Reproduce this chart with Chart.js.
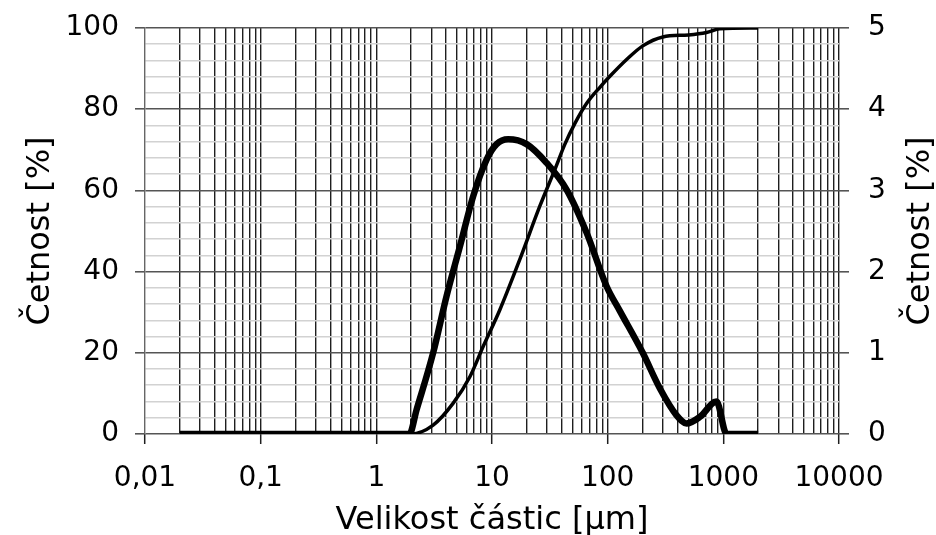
<!DOCTYPE html>
<html>
<head>
<meta charset="utf-8">
<script src="https://cdn.jsdelivr.net/npm/chart.js@4"></script>
<style>
  html, body { margin: 0; padding: 0; background: #fff; }
  #wrap { width: 936px; height: 535px; position: relative; }
</style>
</head>
<body>
<div id="wrap"><canvas id="psd"></canvas></div>
<script>
/* ── data ── */

// cumulative curve (left axis, %)
var cumSize  = [0.02, 2.0, 3.1, 4.62, 6.44, 8.4, 11.7, 17.4, 25.9, 35.0, 42.7, 52.1, 66.1, 85.7, 104.5, 146.6, 201, 300, 500, 716, 933, 2000];
var cumValue = [0, 0, 2.2, 7.6, 14.1, 21.6, 30.6, 43.0, 56.1, 65.2, 71.4, 76.5, 81.5, 85.4, 88.1, 92.3, 95.6, 97.8, 98.3, 98.9, 99.8, 100];

// frequency curve (right axis, %)
var freqSize  = [0.02, 1.93, 2.23, 3.1, 4.05, 5.28, 6.88, 8.98, 10.96, 13.8, 19.9, 29.6, 44.1, 65.7, 97.8, 127, 201, 283, 394, 481, 627, 873, 1066, 2000];
var freqValue = [0, 0, 0.3, 1.0, 1.7, 2.31, 2.93, 3.38, 3.57, 3.63, 3.57, 3.34, 3.01, 2.48, 1.82, 1.52, 1.0, 0.56, 0.23, 0.13, 0.21, 0.40, 0, 0];

// axis ticks
var xDecades    = [0.01, 0.1, 1, 10, 100, 1000, 10000];
var xTickLabels = ["0,01", "0,1", "1", "10", "100", "1000", "10000"];
var yLeftLabels  = [0, 20, 40, 60, 80, 100];
var yRightLabels = [0, 1, 2, 3, 4, 5];

var FONT = "'DejaVu Sans', Verdana, sans-serif";
var MAJOR = "#555";
var MINOR = "#d2d2d2";
var VLINE = "#1e1e1e";

function decadeIndex(v) {
  for (var i = 0; i < xDecades.length; i++) {
    if (Math.abs(v - xDecades[i]) < xDecades[i] * 1e-6) return i;
  }
  return -1;
}

function pairs(xs, ys) {
  return xs.map(function(x, i) { return { x: x, y: ys[i] }; });
}

// fixed box sizes, no label overflow padding (layout.padding sets the top)
function fixBox(w, h) {
  return function(scale) {
    if (w) scale.width = w;
    if (h) scale.height = h;
    scale.paddingTop = 0; scale.paddingBottom = 0;
    scale.paddingLeft = 0; scale.paddingRight = 0;
  };
}

/* right axis title reads bottom-to-top, like the left one */
var rightTitle = {
  id: "rightTitle",
  afterDraw: function(chart) {
    var c = chart.ctx;
    var area = chart.chartArea;
    c.save();
    c.translate(921, (area.top + area.bottom) / 2);
    c.rotate(-Math.PI / 2);
    c.font = "32px " + FONT;
    c.fillStyle = "#000";
    c.textAlign = "center";
    c.textBaseline = "middle";
    c.fillText("Četnost [%]", 0, 0);
    c.restore();
  }
};

new Chart(document.getElementById("psd").getContext("2d"), {
  type: "line",
  data: {
    datasets: [
      { label: "freq", data: pairs(freqSize, freqValue), yAxisID: "y1", order: 0,
        borderColor: "#000", borderWidth: 6.5, pointRadius: 0, cubicInterpolationMode: "monotone", fill: false },
      { label: "cum", data: pairs(cumSize, cumValue), yAxisID: "y", order: 1,
        borderColor: "#000", borderWidth: 3.5, pointRadius: 0, cubicInterpolationMode: "monotone", fill: false }
    ]
  },
  options: {
    responsive: true, maintainAspectRatio: false, animation: false,
    layout: { padding: { top: 28, left: 0, right: 0, bottom: 0 } },
    plugins: { legend: { display: false }, tooltip: { enabled: false } },
    scales: {
      x: {
        type: "logarithmic", min: 0.01, max: 10000,
        afterBuildTicks: function(scale) {
          var t = [];
          for (var d = 0; d < xDecades.length; d++) {
            for (var m = 1; m <= 9; m++) {
              if (d === xDecades.length - 1 && m > 1) break;
              t.push({ value: m * xDecades[d], major: m === 1 });
            }
          }
          scale.ticks = t;
        },
        afterFit: fixBox(0, 101),
        border: { display: false },
        grid: {
          color: function(ctx) { return ctx.tick && decadeIndex(ctx.tick.value) === 0 ? "transparent" : VLINE; },
          lineWidth: 1.4,
          tickLength: 10,
          tickWidth: 1.5,
          tickColor: function(ctx) { return ctx.tick && decadeIndex(ctx.tick.value) >= 0 ? VLINE : "transparent"; }
        },
        ticks: {
          autoSkip: false, maxRotation: 0, padding: 18, color: "#000",
          font: { family: FONT, size: 28 },
          callback: function(v) { var i = decadeIndex(v); return i >= 0 ? xTickLabels[i] : ""; }
        },
        title: { display: true, text: "Velikost částic [µm]", color: "#000",
          font: { family: FONT, size: 32, lineHeight: 0.9 }, padding: { top: 0, bottom: 0 } }
      },
      y: {
        position: "left", min: 0, max: 100,
        afterFit: fixBox(145, 0),
        border: { display: true, color: "#666", width: 1.4 },
        grid: {
          color: function(ctx) { return ctx.tick && ctx.tick.value % 20 === 0 ? MAJOR : MINOR; },
          lineWidth: 1.6,
          tickLength: 10,
          tickColor: function(ctx) { return ctx.tick && ctx.tick.value % 20 === 0 ? MAJOR : "transparent"; }
        },
        ticks: {
          stepSize: 4, autoSkip: false, padding: 16, color: "#000",
          font: { family: FONT, size: 28 },
          callback: function(v) { return yLeftLabels.indexOf(v) >= 0 ? String(v) : ""; }
        },
        title: { display: true, text: "Četnost [%]", color: "#000",
          font: { family: FONT, size: 32 }, padding: { top: 21, bottom: 0 } }
      },
      y1: {
        position: "right", min: 0, max: 5,
        afterFit: fixBox(97, 0),
        border: { display: false },
        grid: { drawOnChartArea: false, tickLength: 10, lineWidth: 1.6, tickColor: MAJOR },
        ticks: {
          stepSize: 1, autoSkip: false, padding: 19, color: "#000",
          font: { family: FONT, size: 28 },
          callback: function(v) { return yRightLabels.indexOf(v) >= 0 ? String(v) : ""; }
        }
      }
    }
  },
  plugins: [rightTitle]
});
</script>
</body>
</html>
